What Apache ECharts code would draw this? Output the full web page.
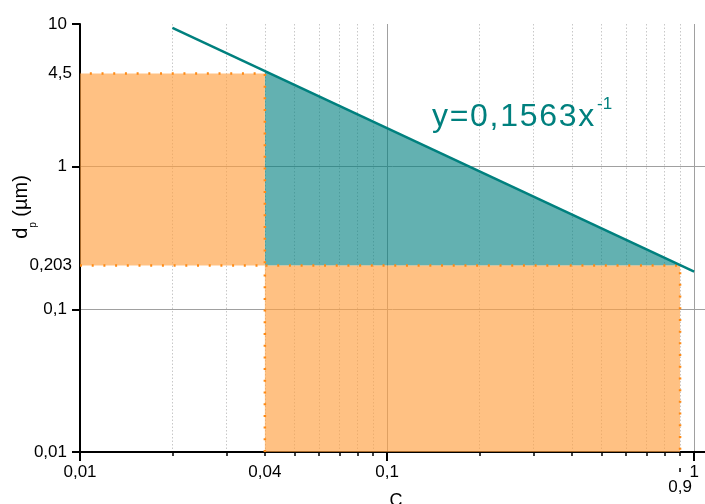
<!DOCTYPE html>
<html><head><meta charset="utf-8">
<script src="https://cdn.jsdelivr.net/npm/echarts@6/dist/echarts.min.js"></script>
<style>html,body{margin:0;padding:0;background:#fff}#c{width:705px;height:504px}</style>
</head><body><div id="c"></div>
<script>
// ---- data ----
const xMajorTicks = [0.01, 0.1, 1];
const xMinorTicks = [0.02, 0.03, 0.04, 0.05, 0.06, 0.07, 0.08, 0.09, 0.2, 0.3, 0.4, 0.5, 0.6, 0.7, 0.8, 0.9];
const xTickLabels = [0.01, 0.04, 0.1, 1];
const xLowTickLabels = [0.9];
const yMajorTicks = [0.01, 0.1, 1, 10];
const yTickLabels = [0.01, 0.1, 1, 10];
const yExtraLabels = [0.203, 4.5];
const leftRegionX = [0.01, 0.04, 0.04, 0.01];
const leftRegionY = [0.203, 0.203, 4.5, 4.5];
const bottomRegionX = [0.04, 0.04, 0.9, 0.9];
const bottomRegionY = [0.01, 0.203, 0.203, 0.01];
const tealRegionX = [0.04, 0.9, 0.04];
const tealRegionY = [0.203, 0.203, 4.67];
const fitLineX = [0.02, 1];
const fitLineY = [9.38, 0.184];
const equationText = 'y=0,1563x';
const equationExp = '-1';

const fmt = v => String(v).replace('.', ',');
const FONT = '"Liberation Sans", Arial, sans-serif';

function polyItem(X, Y, fill, dashed) {
  return function (params, api) {
    const pts = X.map((x, i) => api.coord([x, Y[i]]));
    const children = [{ type: 'polygon', shape: { points: pts }, style: { fill: fill, stroke: null } }];
    if (dashed) {
      children.push({ type: 'polyline', shape: { points: pts },
        style: { fill: null, stroke: '#FF8A14', lineWidth: 2.5, lineDash: [2, 9.7] } });
    }
    return { type: 'group', children: children };
  };
}

// spaced equation text (one rich token per character)
const eqChars = equationText.split('');
const eqRich = eqChars.map((c, i) => '{' + (i < eqChars.length - 1 ? 'c' : 'e') + '|' + c + '}').join('');

const chart = echarts.init(document.getElementById('c'));
const logX = { type: 'log', logBase: 10, min: 0.01, max: 1.085, gridIndex: 0, position: 'bottom' };
const logY = { type: 'log', logBase: 10, min: 0.01, max: 10, gridIndex: 0, position: 'left' };
chart.setOption({
  animation: false,
  backgroundColor: '#fff',
  textStyle: { fontFamily: FONT },
  grid: { left: 80, right: 0, top: 24, bottom: 52, containLabel: false, outerBoundsMode: 'none' },
  xAxis: [
    Object.assign({}, logX, {
      axisLine: { show: true, lineStyle: { color: '#000', width: 2 } },
      axisTick: { show: true, customValues: xMajorTicks, length: 9, lineStyle: { color: '#000', width: 2 } },
      axisLabel: { show: true, customValues: xTickLabels, formatter: fmt, margin: 12, fontSize: 17, color: '#000', fontFamily: FONT, hideOverlap: false },
      splitLine: { show: true, showMinLine: false, showMaxLine: true, lineStyle: { color: '#A0A0A0', width: 1 } },
      minorTick: { show: false }, minorSplitLine: { show: false }
    }),
    Object.assign({}, logX, {
      axisLine: { show: false },
      axisTick: { show: true, customValues: xMinorTicks, length: 4, lineStyle: { color: '#000', width: 1.5 } },
      axisLabel: { show: false },
      splitLine: { show: true, lineStyle: { color: '#C8C8C8', width: 1, type: [1.5, 2] } }
    }),
    Object.assign({}, logX, {
      offset: 16,
      axisLine: { show: false },
      axisTick: { show: true, customValues: xLowTickLabels, length: 4, lineStyle: { color: '#000', width: 1.5 } },
      axisLabel: { show: true, customValues: xLowTickLabels, formatter: fmt, margin: 11, fontSize: 17, color: '#000', fontFamily: FONT },
      splitLine: { show: false }
    })
  ],
  yAxis: [
    Object.assign({}, logY, {
      axisLine: { show: true, lineStyle: { color: '#000', width: 2 } },
      axisTick: { show: true, customValues: yMajorTicks, length: 8, lineStyle: { color: '#000', width: 2 } },
      axisLabel: { show: true, customValues: yTickLabels, formatter: fmt, margin: 13, fontSize: 17, color: '#000', fontFamily: FONT, hideOverlap: false },
      splitLine: { show: true, showMinLine: false, showMaxLine: false, lineStyle: { color: '#A0A0A0', width: 1 } }
    }),
    Object.assign({}, logY, {
      axisLine: { show: false },
      axisTick: { show: false },
      axisLabel: { show: true, customValues: yExtraLabels, formatter: fmt, margin: 8, fontSize: 17, color: '#000', fontFamily: FONT },
      splitLine: { show: false }
    })
  ],
  series: [
    { type: 'custom', xAxisIndex: 0, yAxisIndex: 0, z: 2, silent: true, data: [[leftRegionX[0], leftRegionY[0]]],
      renderItem: polyItem(leftRegionX, leftRegionY, 'rgba(255,159,64,0.65)', true) },
    { type: 'custom', xAxisIndex: 0, yAxisIndex: 0, z: 2, silent: true, data: [[bottomRegionX[0], bottomRegionY[0]]],
      renderItem: polyItem(bottomRegionX, bottomRegionY, 'rgba(255,159,64,0.65)', true) },
    { type: 'custom', xAxisIndex: 0, yAxisIndex: 0, z: 1, silent: true, data: [[tealRegionX[0], tealRegionY[0]]],
      renderItem: polyItem(tealRegionX, tealRegionY, 'rgba(0,128,128,0.61)', false) },
    { type: 'line', xAxisIndex: 0, yAxisIndex: 0, z: 5, silent: true, symbol: 'none',
      lineStyle: { color: '#00807E', width: 2.5 },
      data: fitLineX.map((x, i) => [x, fitLineY[i]]) }
  ],
  graphic: [
    { type: 'text', x: 432, y: 117, z: 10, style: { text: eqRich, fill: '#00807E', font: '32px ' + FONT, textAlign: 'left', textVerticalAlign: 'middle',
        rich: { c: { fontSize: 32, fontFamily: FONT, fill: '#00807E', padding: [0, 1.7, 0, 0] }, e: { fontSize: 32, fontFamily: FONT, fill: '#00807E' } } } },
    { type: 'text', x: 597, y: 104, z: 10, style: { text: equationExp, fill: '#00807E', font: '17px ' + FONT, textAlign: 'left', textVerticalAlign: 'middle' } },
    { type: 'text', x: 21, y: 207, rotation: Math.PI / 2, z: 10,
      style: { text: '{m|d}{s|p}{m| (µm)}', fill: '#000', font: '20px ' + FONT, textAlign: 'center', textVerticalAlign: 'middle',
        rich: { m: { fontSize: 20, fontFamily: FONT, lineHeight: 34, verticalAlign: 'middle', fill: '#000' },
                s: { fontSize: 10, fontFamily: FONT, lineHeight: 10, verticalAlign: 'bottom', fill: '#000' } } } },
    { type: 'text', x: 396, y: 492, z: 10, style: { text: 'C', fill: '#000', font: '18px ' + FONT, textAlign: 'center', textVerticalAlign: 'top' } }
  ]
});
</script>
</body></html>
